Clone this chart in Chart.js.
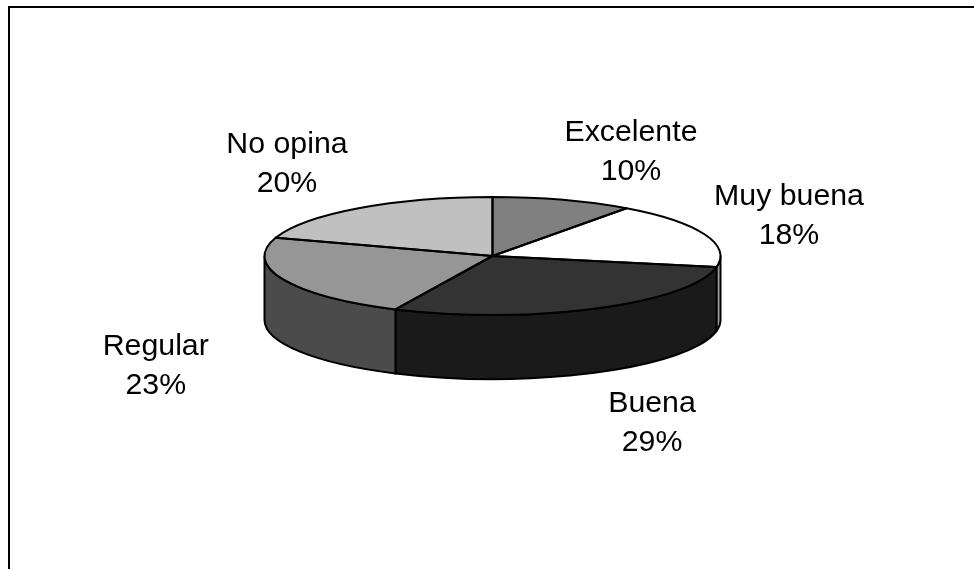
<!DOCTYPE html>
<html>
<head>
<meta charset="utf-8">
<style>
html,body{margin:0;padding:0;background:#fff;width:974px;height:569px;overflow:hidden}
#wrap{position:absolute;left:0;top:0;width:974px;height:569px}
</style>
<script src="https://cdn.jsdelivr.net/npm/chart.js@4/dist/chart.umd.min.js"></script>
</head>
<body>
<div id="wrap"><canvas id="c" width="974" height="569"></canvas></div>
<script>
const categories = ["Excelente", "Muy buena", "Buena", "Regular", "No opina"];
const shares = [10, 18, 29, 23, 20];
const topColors = ["#808080", "#ffffff", "#333333", "#969696", "#c0c0c0"];
const wallColors = ["#404040", "#a0a0a0", "#1a1a1a", "#4b4b4b", "#606060"];
const labelOffsets = [[68,-50],[84.5,-21],[56,112],[-127.5,84],[-71.5,-47]];

const squash = 59/228, depth = 64, fontPx = 30.3, lineGap = 39;

const pie3d = {
  id: 'pie3d',
  beforeDraw(chart){
    const {ctx} = chart;
    ctx.save();
    ctx.strokeStyle = '#000'; ctx.lineWidth = 2;
    ctx.beginPath();
    ctx.moveTo(9, 569); ctx.lineTo(9, 7); ctx.lineTo(974, 7);
    ctx.stroke();
    ctx.restore();
  },
  beforeDatasetsDraw(chart){
    const {ctx} = chart;
    const arcs = chart.getDatasetMeta(0).data;
    const {x:cx, y:cy, outerRadius:r} = arcs[0];
    const ry = r*squash;
    ctx.save();
    ctx.lineWidth = 2; ctx.strokeStyle = '#000'; ctx.lineJoin = 'round';
    arcs.forEach((a,i)=>{
      const s = Math.max(a.startAngle,0), e = Math.min(a.endAngle,Math.PI);
      if (e <= s) return;
      ctx.beginPath();
      ctx.ellipse(cx,cy,r,ry,0,s,e);
      ctx.ellipse(cx,cy+depth,r,ry,0,e,s,true);
      ctx.closePath();
      ctx.fillStyle = wallColors[i];
      ctx.fill(); ctx.stroke();
    });
    ctx.restore();
    ctx.save();
    ctx.translate(0,cy); ctx.scale(1,squash); ctx.translate(0,-cy);
  },
  afterDatasetsDraw(chart){
    const {ctx} = chart;
    ctx.restore();
    const arcs = chart.getDatasetMeta(0).data;
    const {x:cx, y:cy, outerRadius:r} = arcs[0];
    const ry = r*squash;
    ctx.save();
    ctx.lineWidth = 2; ctx.strokeStyle = '#000'; ctx.lineJoin = 'round';
    arcs.forEach(a=>{
      ctx.beginPath();
      ctx.moveTo(cx,cy);
      ctx.ellipse(cx,cy,r,ry,0,a.startAngle,a.endAngle);
      ctx.closePath();
      ctx.stroke();
    });
    ctx.fillStyle = '#000';
    ctx.font = fontPx+'px "Liberation Sans", Arial, sans-serif';
    ctx.textAlign = 'center'; ctx.textBaseline = 'alphabetic';
    const total = shares.reduce((p,v)=>p+v,0);
    arcs.forEach((a,i)=>{
      const m = (a.startAngle+a.endAngle)/2;
      const lx = cx + r*Math.cos(m) + labelOffsets[i][0];
      const ly = cy + ry*Math.sin(m) + labelOffsets[i][1];
      ctx.fillText(categories[i], lx, ly - lineGap/2 + fontPx*0.36);
      ctx.fillText(Math.round(shares[i]/total*100)+'%', lx, ly + lineGap/2 + fontPx*0.36);
    });
    ctx.restore();
  }
};

new Chart(document.getElementById('c'), {
  type: 'pie',
  data: { labels: categories, datasets: [{ data: shares, backgroundColor: topColors, borderWidth: 0 }] },
  options: {
    responsive: false,
    animation: false,
    layout: { padding: { left: 264.5, right: 253.5, top: 28, bottom: 85 } },
    plugins: { legend: {display:false}, tooltip: {enabled:false} }
  },
  plugins: [pie3d]
});
</script>
</body>
</html>
